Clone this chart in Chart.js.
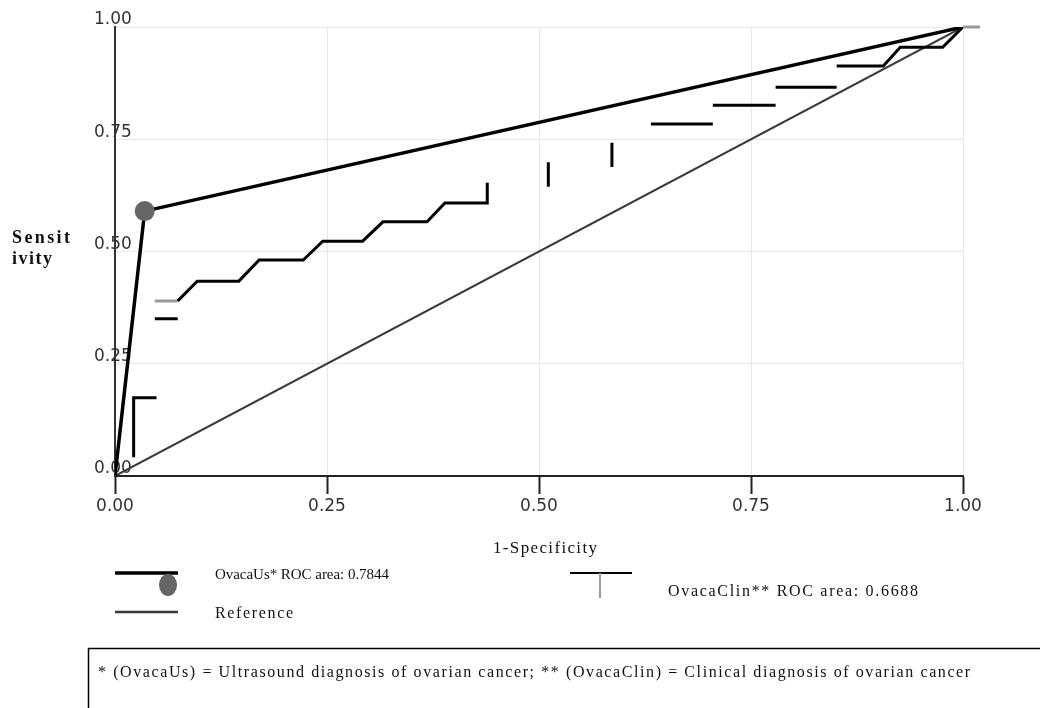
<!DOCTYPE html>
<html>
<head>
<meta charset="utf-8">
<script src="https://cdn.jsdelivr.net/npm/chart.js@4"></script>
<style>
  html, body { margin: 0; padding: 0; background: #fff; }
  #wrap { width: 1040px; height: 708px; }
</style>
</head>
<body>
<div id="wrap"><canvas id="rocChart" width="1040" height="708"></canvas></div>
<script>
// ROC curves (x = 1-specificity, y = sensitivity)
const usFpr = [0, 0.035, 1];
const usSens = [0, 0.59, 1];
const refFpr = [0, 1];
const refSens = [0, 1];
// null entries break the clinical curve into its separate pieces
const clinFpr = [0.022, 0.022, 0.049, null, 0.047, 0.074, null,
  0.074, 0.097, 0.146, 0.170, 0.222, 0.245, 0.292, 0.316, 0.368, 0.389, 0.439, 0.439, null,
  0.511, 0.511, null, 0.586, 0.586, null, 0.632, 0.705, null, 0.705, 0.779, null,
  0.779, 0.851, null, 0.851, 0.906, 0.926, 0.976, 1];
const clinSens = [0.042, 0.174, 0.174, null, 0.350, 0.350, null,
  0.390, 0.434, 0.434, 0.481, 0.481, 0.523, 0.523, 0.566, 0.566, 0.608, 0.608, 0.653, null,
  0.644, 0.699, null, 0.688, 0.742, null, 0.784, 0.784, null, 0.826, 0.826, null,
  0.866, 0.866, null, 0.913, 0.913, 0.955, 0.955, 1];
// grey bits of the clinical curve
const clinGreyFpr = [0.047, 0.074, null, 1, 1.02];
const clinGreySens = [0.390, 0.390, null, 1, 1];
const tickValues = [0, 0.25, 0.5, 0.75, 1];

const usLabel = 'OvacaUs* ROC area: 0.7844';
const clinLabel = 'OvacaClin** ROC area: 0.6688';
const refLabel = 'Reference';
const footnote = '* (OvacaUs) = Ultrasound diagnosis of ovarian cancer; ** (OvacaClin) = Clinical diagnosis of ovarian cancer';

const toPoints = (xs, ys) => xs.map((x, i) => ({ x: x, y: ys[i] }));

// draw text stretched to the width it has in the picture
function fitText(ctx, text, x, y, width) {
  ctx.letterSpacing = '0px';
  const natural = ctx.measureText(text).width;
  const gap = (width - natural) / Math.max(1, text.length - 1);
  ctx.letterSpacing = gap.toFixed(2) + 'px';
  ctx.fillText(text, x, y);
  ctx.letterSpacing = '0px';
}

const extras = {
  id: 'rocExtras',
  afterDraw(chart) {
    const ctx = chart.ctx;
    const [us, clin, clinGrey, ref] = chart.data.datasets;
    ctx.save();
    ctx.textBaseline = 'middle';
    ctx.textAlign = 'left';
    ctx.fillStyle = '#111';

    // y title, wrapped like the original
    ctx.font = 'bold 18px "Liberation Serif"';
    fitText(ctx, 'Sensit', 12, 238, 58);
    fitText(ctx, 'ivity', 12, 259, 40);

    // x title
    ctx.font = '17px "Liberation Serif"';
    fitText(ctx, '1-Specificity', 493, 549, 104);

    // legend
    ctx.lineCap = 'butt';
    ctx.strokeStyle = us.borderColor;
    ctx.lineWidth = us.borderWidth;
    ctx.beginPath(); ctx.moveTo(115, 573); ctx.lineTo(178, 573); ctx.stroke();
    ctx.fillStyle = us.pointBackgroundColor;
    ctx.beginPath(); ctx.ellipse(168, 585, 9, 11, 0, 0, Math.PI * 2); ctx.fill();

    ctx.strokeStyle = ref.borderColor;
    ctx.lineWidth = ref.borderWidth + 0.5;
    ctx.beginPath(); ctx.moveTo(115, 612); ctx.lineTo(178, 612); ctx.stroke();

    ctx.strokeStyle = clin.borderColor;
    ctx.lineWidth = 2;
    ctx.beginPath(); ctx.moveTo(570, 573); ctx.lineTo(632, 573); ctx.stroke();
    ctx.strokeStyle = clinGrey.borderColor;
    ctx.beginPath(); ctx.moveTo(600, 573); ctx.lineTo(600, 598); ctx.stroke();

    ctx.fillStyle = '#111';
    ctx.font = '15px "Liberation Serif"';
    fitText(ctx, us.label, 215, 575, 174);
    ctx.font = '16px "Liberation Serif"';
    fitText(ctx, ref.label, 215, 614, 78);
    fitText(ctx, clin.label, 668, 592, 250);

    // footnote box
    ctx.strokeStyle = '#000';
    ctx.lineWidth = 1.5;
    ctx.strokeRect(88.5, 648.5, 1000, 100);
    ctx.font = '16px "Liberation Serif"';
    fitText(ctx, footnote, 98, 673, 872);
    ctx.restore();
  }
};

const tickFont = { family: 'DejaVu Sans', size: 17 };

new Chart(document.getElementById('rocChart'), {
  type: 'line',
  data: {
    datasets: [
      {
        label: usLabel,
        data: toPoints(usFpr, usSens),
        borderColor: '#000',
        borderWidth: 3.5,
        pointRadius: ctx => (ctx.dataIndex === 1 ? 10 : 0),
        pointBackgroundColor: '#666',
        pointBorderWidth: 0,
        tension: 0
      },
      {
        label: clinLabel,
        data: toPoints(clinFpr, clinSens),
        borderColor: '#000',
        borderWidth: 3,
        pointRadius: 0,
        spanGaps: false,
        tension: 0
      },
      {
        label: 'OvacaClin grey',
        data: toPoints(clinGreyFpr, clinGreySens),
        borderColor: '#9a9a9a',
        borderWidth: 3,
        pointRadius: 0,
        spanGaps: false,
        clip: false,
        tension: 0
      },
      {
        label: refLabel,
        data: toPoints(refFpr, refSens),
        borderColor: '#3a3a3a',
        borderWidth: 2,
        pointRadius: 0,
        tension: 0
      }
    ]
  },
  options: {
    responsive: false,
    animation: false,
    devicePixelRatio: 1,
    layout: { padding: { top: 27, right: 77, left: 0, bottom: 0 } },
    plugins: { legend: { display: false }, tooltip: { enabled: false } },
    scales: {
      x: {
        type: 'linear',
        min: 0,
        max: 1,
        afterFit: s => { s.height = 232; },
        afterBuildTicks: s => { s.ticks = tickValues.map(v => ({ value: v })); },
        grid: { color: '#e8e8e8', lineWidth: 1, tickLength: 18, tickColor: '#222', tickWidth: 2 },
        border: { color: '#222', width: 2 },
        ticks: { font: tickFont, color: '#333', padding: 2, maxRotation: 0,
          callback: v => v.toFixed(2) }
      },
      y: {
        type: 'linear',
        min: 0,
        max: 1,
        afterFit: s => { s.width = 115; },
        afterBuildTicks: s => { s.ticks = tickValues.map(v => ({ value: v })); },
        grid: { color: '#e8e8e8', lineWidth: 1, drawTicks: false },
        border: { color: '#333', width: 2 },
        ticks: { font: tickFont, color: '#333', mirror: true, crossAlign: 'center',
          padding: -21, labelOffset: -7, callback: v => v.toFixed(2) }
      }
    }
  },
  plugins: [extras]
});
</script>
</body>
</html>
